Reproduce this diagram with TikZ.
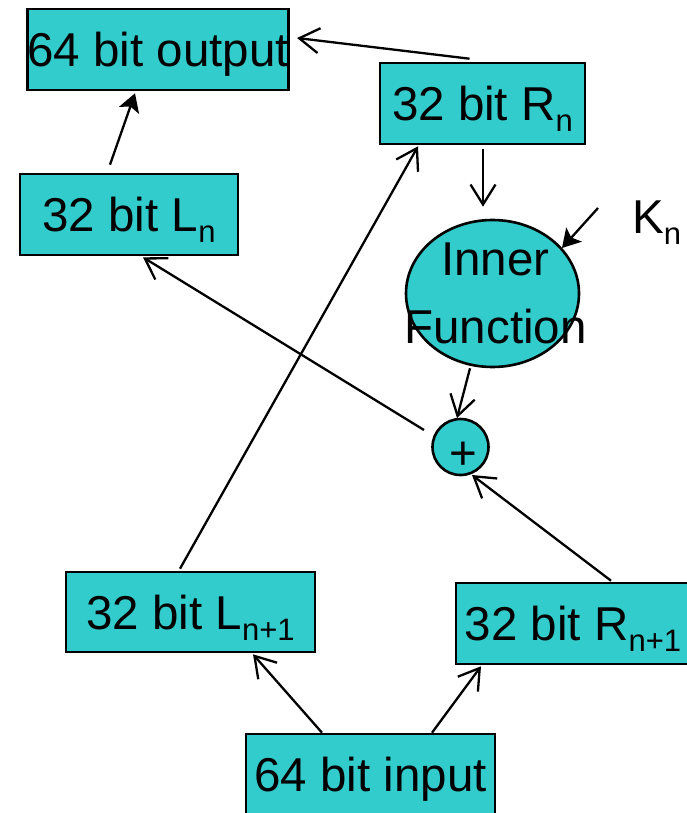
\documentclass[tikz,border=0pt]{standalone}
\usepackage{fontspec}
\setmainfont{Liberation Sans}
\usetikzlibrary{arrows.meta,calc,shapes.geometric}
\definecolor{boxfill}{HTML}{33CCCC}
\newcommand\sbs[1]{\raisebox{-11pt}{\fontsize{31}{31}\selectfont #1}}
\begin{document}
\begin{tikzpicture}[x=1pt,y=-1pt,
  lbl/.style={font=\fontsize{47.5}{68}\selectfont, inner sep=0pt},
  blk/.style={lbl, draw=black, line width=2.6pt, fill=boxfill, rectangle, text height=34pt, text depth=0pt},
  conn/.style={line width=2.3pt, -{Straight Barb[length=20pt,width=25pt]}},
  connf/.style={line width=2.3pt, -{Stealth[length=18pt,width=21pt,inset=4pt]}}]
\useasboundingbox (0,0) rectangle (687,813);

\node[blk, minimum width=250pt, minimum height=81pt] (out) at (158,49.5) {64 bit output};
\node[blk, minimum width=218pt, minimum height=81pt] (Ln) at (129,214.5) {32 bit L\sbs{n}};
\node[blk, minimum width=205pt, minimum height=81pt] (Rn) at (482.5,103.5) {32 bit R\sbs{n}};
\node[blk, minimum width=249pt, minimum height=80pt] (Ln1) at (190.5,612) {32 bit L\sbs{n+1}};
\node[blk, minimum width=234pt, minimum height=81pt] (Rn1) at (573,623.5) {32 bit R\sbs{n+1}};
\node[blk, minimum width=249pt, minimum height=81pt] (in) at (370.5,774.5) {64 bit input};

\node[ellipse, draw=black, line width=2.6pt, fill=boxfill, minimum width=173pt, minimum height=147pt, inner sep=0pt] (f) at (492.5,293.5) {};
\node[lbl, align=center] (ftext) at (495.5,293.5) {Inner\\Function};

\node[circle, draw=black, line width=2.6pt, fill=boxfill, minimum size=56pt, inner sep=0pt] (plus) at (460.5,447) {};
\node[lbl] (plustxt) at (463,456) {+};

\node[lbl, anchor=base west] (kn) at (632,233) {K\sbs{n}};
\coordinate (kfrom) at (598,208);

\draw[conn] ($(Rn.north)+(-13,-3)$) -- ($(out.east)+(7,-11.5)$);
\draw[connf] ($(Ln.north)+(-19,-8)$) -- ($(out.south)+(-23,2)$);
\draw[conn] ($(plus.center)+(-36.5,-17)$) -- ($(Ln.south)+(14,1)$);
\draw[conn] ($(Ln1.north)+(-10.5,-2)$) -- ($(Rn.south)+(-64.5,1)$);
\draw[conn] ($(Rn.south)+(0.5,4)$) -- ($(f.north)+(-9.5,-12)$);
\draw[connf] (kfrom) -- ($(f.center)+(69.5,-45.5)$);
\draw[conn] ($(f.south)+(-22.5,0)$) -- ($(plus.center)+(-3.5,-29)$);
\draw[conn] ($(Rn1.north)+(38,-1)$) -- ($(plus.center)+(11.5,28)$);
\draw[conn] ($(in.north)+(-48.5,0)$) -- ($(Ln1.south)+(62.5,1)$);
\draw[conn] ($(in.north)+(61.5,0)$) -- ($(Rn1.south)+(-92,1)$);
\end{tikzpicture}
\end{document}
